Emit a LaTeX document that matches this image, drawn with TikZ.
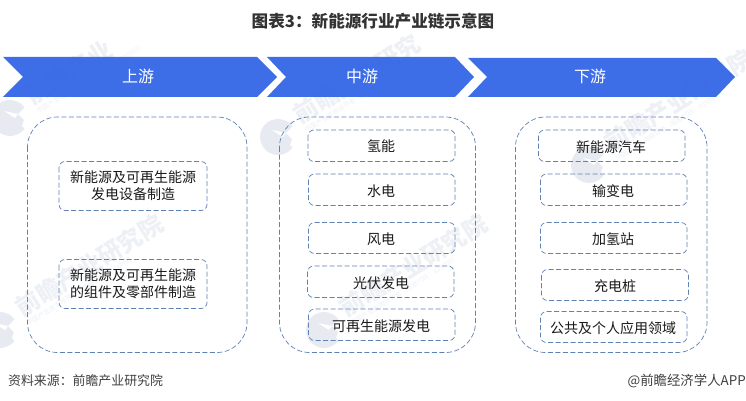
\documentclass[tikz,border=0pt]{standalone}
\usepackage{fontspec}
\setmainfont{Noto Sans CJK SC}
\usetikzlibrary{calc}
\definecolor{bandblue}{HTML}{3366E6}
\definecolor{dashblue}{HTML}{5F82B4}
\definecolor{wm}{HTML}{D5DCE6}
\tikzset{
  x=1pt,y=-1pt,
  band/.style={fill=bandblue,fill opacity=.95,draw=none},
  bandlabel/.style={text=white,font=\fontsize{16}{18}\selectfont,inner sep=0pt},
  outerbox/.style={draw=dashblue,line width=0.7pt,dash pattern=on 5pt off 2.5pt,rounded corners=30pt},
  innerbox/.style={draw=dashblue,line width=0.7pt,dash pattern=on 5pt off 2.5pt,rounded corners=6pt},
  boxlabel/.style={text=black!90,font=\fontsize{14}{17}\selectfont,inner sep=0pt,align=center},
  wmtext/.style={text=wm,opacity=.42,font=\bfseries\fontsize{24}{24}\selectfont,rotate=32,inner sep=0pt,anchor=west},
  wmsub/.style={text=wm,opacity=.4,font=\fontsize{6.5}{7}\selectfont,rotate=32,inner sep=0pt,anchor=west},
  wmlogo/.style={fill=wm,opacity=.55,draw=none},
}
\newcommand{\wmark}[4]{%
  \begin{scope}[shift={(#1,#2)}]
    \fill[wmlogo] (-18,20) circle[radius=18];
    \fill[white] (-10,16) -- (2,4) -- (2,36) -- (-6,28) -- (-4,22) -- cycle;
    \fill[white] (-24,13) -- (-10,16) -- (-13,20) -- cycle;
    \node[wmtext] (wt#3) at (0,0) {#4};
    \node[wmsub] (ws#3) at (9,14) {中国产业咨询领导者（股票代码：839399）};
  \end{scope}}
\begin{document}
\begin{tikzpicture}
\useasboundingbox (0,0) rectangle (746,401);
\fill[white] (0,0) rectangle (746,401);

\wmark{28}{98}{a}{前瞻产业}
\wmark{18}{310}{b}{前瞻产业研究院}
\wmark{296}{117}{c}{前瞻产业研究}
\wmark{342}{310}{d}{前瞻产业研究院}
\wmark{607}{145}{e}{前瞻产业研究院}

\fill[band] (3,57) -- (257,57) -- (277,77) -- (257,97) -- (3,97) -- (23,77) -- cycle;
\fill[band] (267,57) -- (455,57) -- (474,77) -- (455,97) -- (267,97) -- (286,77) -- cycle;
\fill[band] (468,58) -- (716,58) -- (735,77) -- (716,97) -- (468,97) -- (487,77) -- cycle;

\node[font=\bfseries\fontsize{16.6}{18}\selectfont,text=black!80,inner sep=0pt] (title) at (373,21) {图表3：新能源行业产业链示意图};

\node[bandlabel] (up) at (138,76) {上游};
\node[bandlabel] (mid) at (362,76) {中游};
\node[bandlabel] (down) at (590,76) {下游};

\draw[outerbox] (27.5,117) rectangle (247,352.5);
\draw[outerbox] (279.5,117) rectangle (475.5,352.5);
\draw[outerbox] (515.5,117) rectangle (707,352.5);

\draw[innerbox] (59,161.5) rectangle (207,210.5);
\node[boxlabel] (a1) at (133,186) {新能源及可再生能源\\发电设备制造};
\draw[innerbox] (59,259.5) rectangle (207,308.5);
\node[boxlabel] (a2) at (133,284) {新能源及可再生能源\\的组件及零部件制造};

\draw[innerbox] (308,130) rectangle (455,161.5);
\node[boxlabel] (b1) at (381,146) {氢能};
\draw[innerbox] (308.5,174) rectangle (455,205.5);
\node[boxlabel] (b2) at (381,191) {水电};
\draw[innerbox] (308.5,222.5) rectangle (455,253.5);
\node[boxlabel] (b3) at (381,239) {风电};
\draw[innerbox] (307.5,266) rectangle (454,297.5);
\node[boxlabel] (b4) at (381,283) {光伏发电};
\draw[innerbox] (308.5,309) rectangle (455,340.5);
\node[boxlabel] (b5) at (381,326) {可再生能源发电};

\draw[innerbox] (538.5,130) rectangle (685,161.5);
\node[boxlabel] (c1) at (611,147) {新能源汽车};
\draw[innerbox] (540.5,174) rectangle (687,205.5);
\node[boxlabel] (c2) at (613,191) {输变电};
\draw[innerbox] (540.5,222.5) rectangle (687,253.5);
\node[boxlabel] (c3) at (613,239) {加氢站};
\draw[innerbox] (541.5,269.5) rectangle (688.5,300.5);
\node[boxlabel] (c4) at (615,286) {充电桩};
\draw[innerbox] (540.5,311.5) rectangle (687,342.5);
\node[boxlabel] (c5) at (613,328) {公共及个人应用领域};

\node[anchor=west,inner sep=0pt,text=black!75,font=\fontsize{12.9}{15}\selectfont] (src) at (8,381) {资料来源：前瞻产业研究院};
\node[anchor=east,inner sep=0pt,text=black!75,font=\fontsize{13.4}{15}\selectfont] (brand) at (746,381) {@前瞻经济学人APP};
\end{tikzpicture}
\end{document}
